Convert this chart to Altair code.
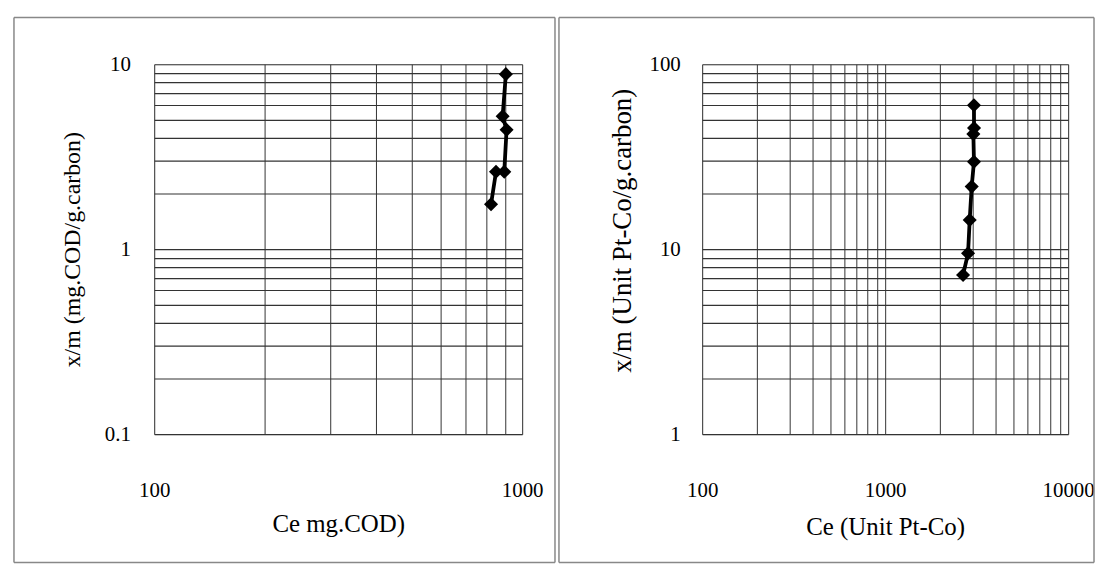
import altair as alt
import pandas as pd

# ---- data ----
cod_ce = [823, 849, 894, 907, 885, 903]
cod_q = [1.75, 2.62, 2.62, 4.42, 5.23, 8.84]

color_ce = [2665, 2838, 2897, 2971, 3057, 3034, 3060, 3057]
color_q = [7.26, 9.5, 14.4, 21.8, 29.7, 41.9, 45.2, 60.0]

# grid / tick values
left_x_grid = [100, 200, 300, 400, 500, 600, 700, 800, 900, 1000]
left_y_grid = [0.1, 0.2, 0.3, 0.4, 0.5, 0.6, 0.7, 0.8, 0.9,
               1, 2, 3, 4, 5, 6, 7, 8, 9, 10]
right_x_grid = [100, 200, 300, 400, 500, 600, 700, 800, 900,
                1000, 2000, 3000, 4000, 5000, 6000, 7000, 8000, 9000, 10000]
right_y_grid = [1, 2, 3, 4, 5, 6, 7, 8, 9,
                10, 20, 30, 40, 50, 60, 70, 80, 90, 100]

left_x_title = "Ce mg.COD)"
left_y_title = "x/m (mg.COD/g.carbon)"
right_x_title = "Ce (Unit Pt-Co)"
right_y_title = "x/m (Unit Pt-Co/g.carbon)"

FONT = "Liberation Serif"
LABEL_EXPR = ("abs(log(datum.value)/LN10 - round(log(datum.value)/LN10)) < 0.001"
              " ? format(datum.value, '~g') : ''")


def panel(ce, q, xdom, ydom, xgrid, ygrid, xtitle, ytitle, w, h,
          ylabpad, ytsize, ytx, yty, xty, fl, fr, ft, fb):
    df = pd.DataFrame({"Ce": ce, "q": q, "i": list(range(len(ce)))})
    x = alt.X("Ce:Q",
              scale=alt.Scale(type="log", domain=xdom, nice=False),
              axis=alt.Axis(values=xgrid, labelExpr=LABEL_EXPR, labelOverlap=False,
                            labelFlush=False, ticks=False, domain=False, grid=True,
                            gridColor="#333", gridWidth=1, gridOpacity=1,
                            labelPadding=46, labelFontSize=21, labelFont=FONT,
                            labelColor="#000", title=xtitle, titleFont=FONT,
                            titleFontSize=25, titleFontWeight="normal",
                            titleColor="#000", titleX=w / 2, titleY=xty,
                            titleAlign="center", titleBaseline="alphabetic"))
    y = alt.Y("q:Q",
              scale=alt.Scale(type="log", domain=ydom, nice=False),
              axis=alt.Axis(values=ygrid, labelExpr=LABEL_EXPR, labelOverlap=False,
                            labelFlush=False, ticks=False, domain=False, grid=True,
                            gridColor="#333", gridWidth=1.2, gridOpacity=1,
                            labelPadding=ylabpad, labelFontSize=21, labelFont=FONT,
                            labelColor="#000", title=ytitle, titleFont=FONT,
                            titleFontSize=ytsize, titleFontWeight="normal",
                            titleColor="#000", titleAngle=270, titleX=ytx, titleY=yty,
                            titleAlign="center", titleBaseline="middle"))
    base = alt.Chart(df)
    line = base.mark_line(color="black", strokeWidth=3.8).encode(x=x, y=y, order="i:Q")
    pts = base.mark_point(shape="diamond", filled=True, size=200, color="black",
                          opacity=1).encode(x=x, y=y)
    fd = alt.Data(values=[{"a": 1}])
    st = dict(color="#888", strokeWidth=1.5)
    top = alt.Chart(fd).mark_rule(**st).encode(x=alt.value(fl), x2=alt.value(fr), y=alt.value(ft))
    bot = alt.Chart(fd).mark_rule(**st).encode(x=alt.value(fl), x2=alt.value(fr), y=alt.value(fb))
    lft = alt.Chart(fd).mark_rule(**st).encode(x=alt.value(fl), y=alt.value(ft), y2=alt.value(fb))
    rgt = alt.Chart(fd).mark_rule(**st).encode(x=alt.value(fr), y=alt.value(ft), y2=alt.value(fb))
    return alt.layer(line, pts, top, bot, lft, rgt).properties(width=w, height=h)


left = panel(cod_ce, cod_q, [100, 1000], [0.1, 10], left_x_grid, left_y_grid,
             left_x_title, left_y_title, 370, 372, 24, 24, -82.5, 186, 98,
             -141, 403, -47, 501)
right = panel(color_ce, color_q, [100, 10000], [1, 100], right_x_grid, right_y_grid,
              right_x_title, right_y_title, 368, 372, 22, 27, -80, 167, 101,
              -144, 394, -47, 501)

chart = alt.hconcat(left, right, spacing=0).properties(
    padding={"left": 4, "top": 6, "right": 0, "bottom": 2}
).configure_view(stroke="black", strokeWidth=2).configure(background="white")

chart.save("out.html", embed_options={"renderer": "svg", "actions": False})
